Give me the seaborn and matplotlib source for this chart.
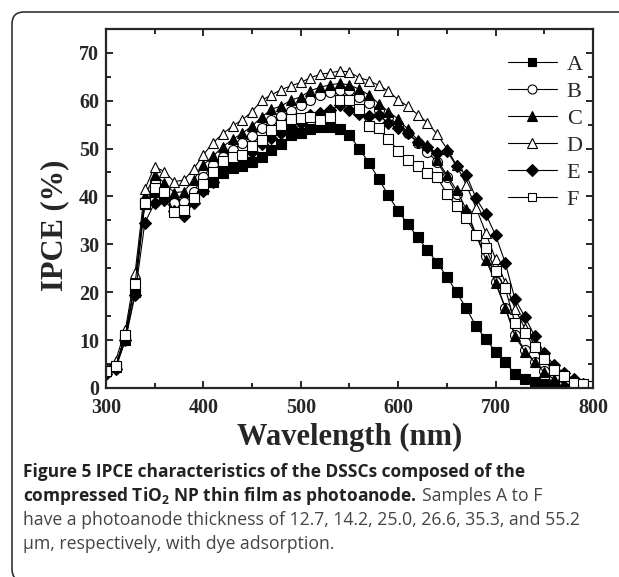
import matplotlib
matplotlib.use("Agg")
import matplotlib.pyplot as plt
import seaborn as sns
import pandas as pd
from matplotlib.patches import FancyBboxPatch
from matplotlib.lines import Line2D

# wavelength grid (nm)
wavelength = list(range(300, 810, 10))

# IPCE (%), one list per sample
ipce_A = [3.6, 4.3, 10, 20, 38.5, 41, 40.5, 38.5, 38, 39.5,
          41.5, 43, 44.8, 46, 46.3, 47.2, 48.3, 49.8, 51, 52.8,
          53.2, 54, 54.4, 54.4, 54, 52.8, 50, 47, 43.7, 40.2,
          37, 34.2, 31.5, 28.8, 26.2, 23.2, 20, 16.6, 12.9, 10.2,
          7.6, 5.4, 2.9, 1.8, 1.2, 0.9, 0.7, 0.5, 0.3]
ipce_B = [4, 4.5, 11, 22, 39, 43, 41.5, 38.6, 38.9, 41,
          44.1, 46.6, 48.3, 49.7, 51.1, 52.6, 54.2, 56, 56.8, 57.8,
          59.2, 60.1, 61.2, 61.9, 62.2, 62.2, 60.8, 59.5, 58, 56.5,
          55, 53.2, 51.2, 49.3, 47.2, 44, 40.5, 36.5, 32, 27.5,
          22.2, 16.8, 11, 8, 5.5, 3.5, 2.2, 1.2, 0.6]
ipce_C = [3.5, 4.5, 11, 22, 40, 44.5, 42.9, 40.8, 41, 43.4,
          46.6, 48.4, 50.4, 51.9, 53.2, 54.7, 56.6, 58.2, 58.9, 60.1,
          60.8, 62.1, 62.8, 63.3, 63.6, 63.3, 62.4, 61.2, 59.4, 57.7,
          56.2, 54, 51.8, 50.7, 47.6, 44.5, 41.3, 37.3, 32, 26.8,
          21.9, 16.7, 10.8, 7.6, 5.4, 3.3, 1.8, 1, 0.5]
ipce_D = [4, 5.7, 12.1, 24, 41.5, 46.2, 45.2, 43.1, 43.4, 45.7,
          48.7, 51.2, 53.1, 54.7, 56, 57.7, 60.1, 61.2, 62.3, 63.1,
          63.8, 64.8, 65.5, 65.8, 66.2, 66, 64.8, 64.2, 63.2, 62,
          60.2, 58.8, 57.1, 55.4, 53, 50, 46.5, 42.4, 37.6, 32.4,
          26.9, 22, 16.5, 12.5, 9, 6.5, 4.4, 3, 1.8, 1]
ipce_E = [3, 4, 10, 19.5, 34.5, 38.6, 39.2, 37, 35.9, 38.7,
          41.2, 43, 45.9, 47.2, 48.3, 49.3, 51, 52.3, 53.2, 54.6,
          55.4, 57, 57.4, 58, 59, 58, 57.3, 56.8, 57, 55.3,
          54.2, 53.3, 51.4, 50.4, 49, 49.5, 46.3, 44.5, 39.6, 36.3,
          31.9, 26.1, 18.5, 14.9, 10.9, 7.3, 4.8, 3.1, 1.8, 0.9]
ipce_F = [3.5, 4.5, 11, 21.8, 38.6, 41.7, 41, 36.8, 37.2, 39.6,
          42.7, 45, 47.5, 48.3, 48.6, 50.5, 51.8, 53.9, 54.9, 56.1,
          56.4, 56.6, 55.9, 56.6, 60.1, 60.1, 58.2, 54.7, 54.2, 52.1,
          49.5, 47.7, 46.3, 44.8, 44, 40.6, 37.9, 35.4, 31.9, 29.2,
          24.4, 20.8, 13.5, 11.4, 8.6, 6, 3.8, 2.4, 1.1, 0.8, 0.5]

samples = ["A", "B", "C", "D", "E", "F"]
series = [ipce_A, ipce_B, ipce_C, ipce_D, ipce_E, ipce_F]

frames = []
for name, vals in zip(samples, series):
    frames.append(pd.DataFrame({"wl": wavelength[:len(vals)], "ipce": vals, "sample": name}))
df = pd.concat(frames, ignore_index=True)

sns.set_style("ticks")
plt.rcParams["font.family"] = ["Liberation Serif", "DejaVu Serif"]
plt.rcParams["mathtext.fontset"] = "custom"
plt.rcParams["mathtext.rm"] = "Open Sans"
plt.rcParams["mathtext.bf"] = "Open Sans:bold"

# marker, filled?
styles = {"A": ("s", True), "B": ("o", False), "C": ("^", True),
          "D": ("^", False), "E": ("D", True), "F": ("s", False)}
msize = {"s": 6.6, "o": 7.2, "^": 7.8, "D": 6.6}

fig = plt.figure(figsize=(6.19, 5.77), dpi=100)
ax = fig.add_axes([0.171, 0.3276, 0.787, 0.6224])

handles = []
for name in samples:
    m, filled = styles[name]
    fc = "black" if filled else "white"
    sub = df[df["sample"] == name]
    sns.lineplot(data=sub, x="wl", y="ipce", ax=ax, color="black", lw=0.8,
                 marker=m, markersize=msize[m], markerfacecolor=fc,
                 markeredgecolor="black", markeredgewidth=0.8, legend=False)
    handles.append(Line2D([], [], color="black", lw=0.8, marker=m,
                          markersize=msize[m] * 0.9, markerfacecolor=fc,
                          markeredgecolor="black", markeredgewidth=0.8))

ax.set_xlim(300, 800)
ax.set_ylim(0, 75)
ax.set_xticks(range(300, 801, 100))
ax.set_xticks(range(350, 800, 100), minor=True)
ax.set_yticks(range(0, 71, 10))
ax.set_yticks(range(5, 76, 10), minor=True)
ax.tick_params(which="both", direction="in", top=True, right=True, width=1.4,
               labelsize=14.5)
ax.tick_params(axis="x", pad=7)
ax.tick_params(axis="y", pad=5)
ax.tick_params(which="major", length=5)
ax.tick_params(which="minor", length=3.5)
ax.tick_params(axis="x", labeltop=False)
ax.tick_params(axis="y", labelright=False)
for lab in ax.get_xticklabels() + ax.get_yticklabels():
    lab.set_fontweight("bold")
for sp in ax.spines.values():
    sp.set_linewidth(1.6)

ax.set_xlabel("Wavelength (nm)", fontsize=22, fontweight="bold", labelpad=4)
ax.set_ylabel("IPCE (%)", fontsize=22, fontweight="bold")
ax.yaxis.set_label_coords(-0.076, 0.454)

ax.legend(handles, samples, loc="upper left", frameon=False, fontsize=16,
          handlelength=2.2, handletextpad=0.45, labelspacing=0.29,
          borderpad=0, borderaxespad=0, bbox_to_anchor=(0.825, 0.930))

# rounded frame round the figure
frame = FancyBboxPatch((12, -4), 700, 569, boxstyle="round,pad=0,rounding_size=12",
                       transform=None, fill=False, edgecolor="#333333", lw=1.2)
fig.patches.append(frame)

# caption
cap_kw = dict(family="Open Sans", fontsize=12.5, transform=fig.transFigure, va="baseline")
x0 = 23 / 619
fig.text(x0, 1 - 477 / 577, "Figure 5 IPCE characteristics of the DSSCs composed of the",
         fontweight="bold", color="#222222", **cap_kw)
t2 = fig.text(x0, 1 - 501 / 577, r"compressed TiO$_\mathbf{2}$ NP thin film as photoanode.",
              fontweight="bold", color="#222222", **cap_kw)
fig.canvas.draw()
bb = t2.get_window_extent()
cap_kw["fontsize"] = 12.7
fig.text(bb.x1 / fig.bbox.width + 5 / 619, 1 - 501 / 577, "Samples A to F",
         color="#444444", **cap_kw)
fig.text(x0, 1 - 525 / 577,
         "have a photoanode thickness of 12.7, 14.2, 25.0, 26.6, 35.3, and 55.2",
         color="#444444", **cap_kw)
fig.text(x0, 1 - 549 / 577, "µm, respectively, with dye adsorption.",
         color="#444444", **cap_kw)

fig.savefig("out.png", dpi=100)
